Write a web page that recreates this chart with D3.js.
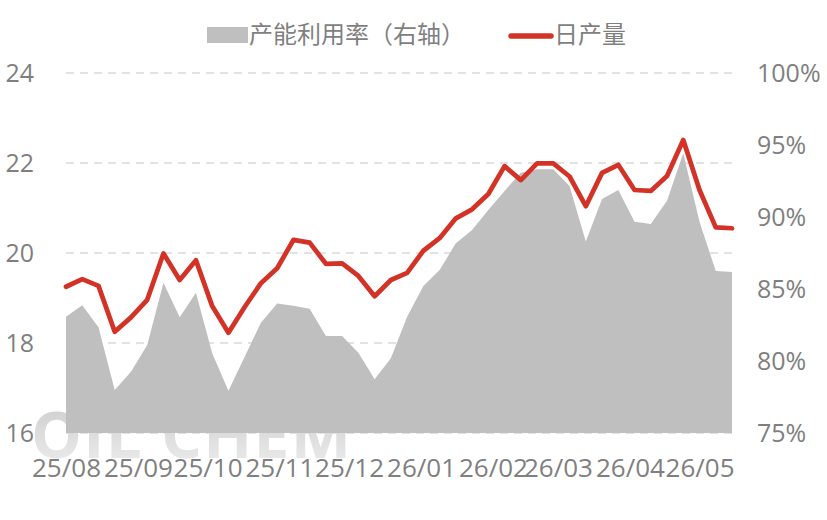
<!DOCTYPE html>
<html>
<head>
<meta charset="utf-8">
<script src="https://cdn.jsdelivr.net/npm/d3@7/dist/d3.min.js"></script>
<style>
  html, body { margin: 0; padding: 0; background: #fff; }
  svg { display: block; }
  text { font-family: "Open Sans", "Noto Sans CJK SC", sans-serif; }
</style>
</head>
<body>
<svg id="chart" width="827" height="520"></svg>
<script>
// ---- data ----
const dates = [
  "2025-08-01","2025-08-08","2025-08-15","2025-08-22","2025-08-29",
  "2025-09-05","2025-09-12","2025-09-19","2025-09-26",
  "2025-10-03","2025-10-10","2025-10-17","2025-10-24","2025-10-31",
  "2025-11-07","2025-11-14","2025-11-21","2025-11-28",
  "2025-12-05","2025-12-12","2025-12-19","2025-12-26",
  "2026-01-02","2026-01-09","2026-01-16","2026-01-23","2026-01-30",
  "2026-02-06","2026-02-13","2026-02-20","2026-02-27",
  "2026-03-06","2026-03-13","2026-03-20","2026-03-27",
  "2026-04-03","2026-04-10","2026-04-17","2026-04-24",
  "2026-05-01","2026-05-08","2026-05-15"
];
// 日产量 (left axis)
const dailyOutput = [
  19.25, 19.42, 19.27, 18.25, 18.57, 18.96, 19.99, 19.40, 19.84, 18.82,
  18.23, 18.80, 19.33, 19.66, 20.29, 20.23, 19.76, 19.77, 19.49, 19.04,
  19.40, 19.56, 20.05, 20.33, 20.77, 20.97, 21.31, 21.93, 21.62, 21.99,
  21.99, 21.70, 21.04, 21.78, 21.96, 21.40, 21.38, 21.71, 22.51, 21.40,
  20.57, 20.55
];
// 产能利用率 (right axis, %)
const utilization = [
  83.08, 83.87, 82.34, 77.99, 79.26, 81.11, 85.44, 83.03, 84.74, 80.53,
  77.94, 80.30, 82.66, 84.00, 83.84, 83.62, 81.74, 81.74, 80.58, 78.73,
  80.19, 83.08, 85.21, 86.32, 88.17, 89.10, 90.49, 91.81, 93.08, 93.31,
  93.31, 92.15, 88.29, 91.25, 91.88, 89.67, 89.51, 91.13, 94.42, 89.67,
  86.25, 86.18
];
const xTickDates = ["2025-08-01","2025-09-01","2025-10-01","2025-11-01","2025-12-01",
                    "2026-01-01","2026-02-01","2026-03-01","2026-04-01","2026-05-01"];
const xTickLabels = ["25/08","25/09","25/10","25/11","25/12","26/01","26/02","26/03","26/04","26/05"];
const leftTicks = [16, 18, 20, 22, 24];
const rightTicks = [75, 80, 85, 90, 95, 100];
const legendLabels = ["产能利用率（右轴）", "日产量"];

(function draw() {
  const svg = d3.select("#chart");
  const parse = d3.utcParse("%Y-%m-%d");
  const pts = dates.map((d, i) => ({ date: parse(d), v: dailyOutput[i], u: utilization[i] }));

  const pLeft = 66, pRight = 732, pTop = 73, pBottom = 433;
  const x = d3.scaleUtc().domain(d3.extent(pts, d => d.date)).range([pLeft, pRight]);
  const yL = d3.scaleLinear().domain([16, 24]).range([pBottom, pTop]);
  const yR = d3.scaleLinear().domain([75, 100]).range([pBottom, pTop]);

  const textColor = "#7f7f7f";

  // watermark gradient
  const defs = svg.append("defs");
  const grad = defs.append("linearGradient").attr("id", "wm").attr("x1", 0).attr("y1", 0).attr("x2", 0).attr("y2", 1);
  grad.append("stop").attr("offset", "0%").attr("stop-color", "#c9c9c9");
  grad.append("stop").attr("offset", "100%").attr("stop-color", "#f0f0f0");

  svg.append("text")
    .attr("x", 31).attr("y", 458)
    .attr("font-size", 64).attr("font-weight", 700)
    .attr("fill", "url(#wm)")
    .attr("textLength", 320)
    .attr("lengthAdjust", "spacing")
    .text("OIL CHEM");

  // gridlines
  svg.append("g").selectAll("line").data(leftTicks).join("line")
    .attr("x1", pLeft).attr("x2", pRight)
    .attr("y1", d => yL(d)).attr("y2", d => yL(d))
    .attr("stroke", "#d9d9d9").attr("stroke-width", 1.5)
    .attr("stroke-dasharray", "8,6");

  // area
  const area = d3.area().x(d => x(d.date)).y0(yR(75)).y1(d => yR(d.u));
  svg.append("path").datum(pts).attr("d", area).attr("fill", "#bfbfbf");

  // line
  const line = d3.line().x(d => x(d.date)).y(d => yL(d.v));
  svg.append("path").datum(pts).attr("d", line)
    .attr("fill", "none").attr("stroke", "#d33327").attr("stroke-width", 4.75)
    .attr("stroke-linejoin", "round").attr("stroke-linecap", "round");

  // left axis
  const axL = d3.axisLeft(yL).tickValues(leftTicks).tickSize(0).tickPadding(0).tickFormat(d3.format("d"));
  const gL = svg.append("g").attr("transform", "translate(34,0)").call(axL);
  gL.select(".domain").remove();
  gL.selectAll("text").attr("font-size", 25).attr("fill", textColor)
    .attr("font-family", '"Open Sans", sans-serif').attr("dy", "0.35em");

  // right axis
  const axR = d3.axisRight(yR).tickValues(rightTicks).tickSize(0).tickPadding(0).tickFormat(d => d + "%");
  const gR = svg.append("g").attr("transform", "translate(757,0)").call(axR);
  gR.select(".domain").remove();
  gR.selectAll("text").attr("font-size", 25).attr("fill", textColor)
    .attr("font-family", '"Open Sans", sans-serif').attr("dy", "0.35em");

  // bottom axis
  const axB = d3.axisBottom(x).tickValues(xTickDates.map(parse)).tickSize(0).tickPadding(0)
    .tickFormat((d, i) => xTickLabels[i]);
  const gB = svg.append("g").attr("transform", "translate(0,468)").call(axB);
  gB.select(".domain").remove();
  gB.selectAll("text").attr("font-size", 26).attr("fill", textColor)
    .attr("font-family", '"Open Sans", sans-serif').attr("dy", "0.35em");

  // legend
  const lg = svg.append("g");
  lg.append("rect").attr("x", 207).attr("y", 27).attr("width", 41).attr("height", 16).attr("fill", "#bfbfbf");
  lg.append("text").attr("x", 249).attr("y", 35).attr("dy", "0.35em")
    .attr("font-size", 24).attr("fill", textColor)
    .attr("font-family", '"Noto Sans CJK SC", sans-serif')
    .text(legendLabels[0]);
  lg.append("line").attr("x1", 511).attr("x2", 551).attr("y1", 36).attr("y2", 36)
    .attr("stroke", "#d33327").attr("stroke-width", 5.5).attr("stroke-linecap", "round");
  lg.append("text").attr("x", 554).attr("y", 35).attr("dy", "0.35em")
    .attr("font-size", 24).attr("fill", textColor)
    .attr("font-family", '"Noto Sans CJK SC", sans-serif')
    .text(legendLabels[1]);
})();
</script>
</body>
</html>
